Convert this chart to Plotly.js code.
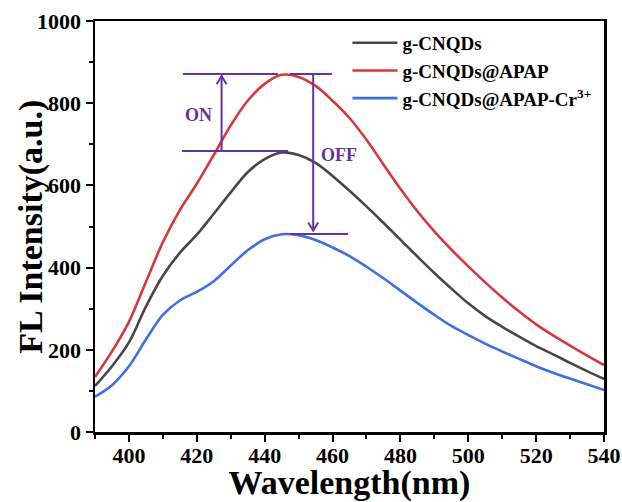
<!DOCTYPE html>
<html>
<head>
<meta charset="utf-8">
<script src="https://cdn.plot.ly/plotly-3.0.1.min.js"></script>
<style>html,body{margin:0;padding:0;background:#fff;}#chart{width:622px;height:502px;}</style>
</head>
<body>
<div id="chart"></div>
<script>
const wavelength = [390,395,400,405,410,415,420,425,430,435,440,445,450,455,460,465,470,475,480,485,490,495,500,505,510,515,520,525,530,535,540];
const gCNQDs = [112,160,218,305,380,436,480,531,583,632,664,680,674,655,623,587,549,509,468,427,387,349,313,282,256,232,209,189,168,148,129];
const gCNQDsAPAP = [134,196,268,365,462,540,604,674,746,806,847,869,864,842,806,764,711,651,592,537,488,444,403,364,327,293,262,235,210,186,163];
const gCNQDsAPAPCr = [86,114,160,225,285,320,341,367,405,442,469,481,479,467,449,428,402,374,344,314,285,258,236,215,196,178,160,144,130,116,102];
const seriesNames = ['g-CNQDs','g-CNQDs@APAP','g-CNQDs@APAP-Cr<sup>3+</sup>'];
const seriesColors = ['#474747','#d8383c','#3f70e2'];
// reference levels for the ON / OFF markers
const levelOnTop = 871, levelOnBottom = 684, levelOff = 482;
const onLineX = [415.9, 443.9], onLine2X = [447.5, 459.8], blackLineX = [415.6, 446.9], offLineX = [447.5, 464.6];
const onArrowX = 427.3, offArrowX = 454.3;
const onArrowTip = 866, offArrowTip = 490;
const xTicks = [400,420,440,460,480,500,520,540];
const yTicks = [0,200,400,600,800,1000];

const FONT = 'Liberation Serif, Times New Roman, serif';
const purple = '#6632a2';
const data = [gCNQDs, gCNQDsAPAP, gCNQDsAPAPCr].map((ys, i) => ({
  x: wavelength, y: ys, type: 'scatter', mode: 'lines', name: seriesNames[i],
  line: {color: seriesColors[i], width: 2.6, shape: 'spline', smoothing: 1.0}
}));

const pline = {color: purple, width: 2};
function hline(x0, x1, y) {
  return {type: 'line', xref: 'x', yref: 'y', x0: x0, x1: x1, y0: y, y1: y, line: pline};
}
function vline(x, y0, y1) {
  return {type: 'line', xref: 'x', yref: 'y', x0: x, x1: x, y0: y0, y1: y1, line: pline};
}
function head(x, y, dir) {
  // open V arrow head, dir = +1 pointing up, -1 pointing down
  const dx = 1.45, dy = 20 * dir;
  return {type: 'path', xref: 'x', yref: 'y', line: pline,
    path: 'M' + (x - dx) + ',' + (y - dy) + ' L' + x + ',' + y + ' L' + (x + dx) + ',' + (y - dy)};
}
const shapes = [
  hline(onLineX[0], onLineX[1], levelOnTop),
  hline(onLine2X[0], onLine2X[1], levelOnTop),
  hline(blackLineX[0], blackLineX[1], levelOnBottom),
  hline(offLineX[0], offLineX[1], levelOff),
  vline(onArrowX, levelOnBottom, onArrowTip),
  head(onArrowX, onArrowTip, 1),
  vline(offArrowX, levelOnTop, offArrowTip),
  head(offArrowX, offArrowTip, -1)
];
const annotations = [
  {x: 420.4, y: 771, xref: 'x', yref: 'y', text: '<b>ON</b>', showarrow: false,
   font: {family: FONT, size: 18, color: purple}},
  {x: 461.8, y: 674, xref: 'x', yref: 'y', text: '<b>OFF</b>', showarrow: false,
   font: {family: FONT, size: 18, color: purple}},
  {x: -0.126, y: 0.499, xref: 'paper', yref: 'paper', text: '<b>FL Intensity(a.u.)</b>', textangle: -90, showarrow: false,
   xanchor: 'center', yanchor: 'middle', font: {family: FONT, size: 34, color: '#000'}}
];

const axisCommon = {
  showline: true, linecolor: '#000', linewidth: 2.5, mirror: true,
  ticks: 'outside', ticklen: 7, tickwidth: 2, tickcolor: '#000',
  showgrid: false, zeroline: false,
  tickfont: {family: FONT, size: 22, color: '#000', weight: 'bold'}
};
const layout = {
  width: 622, height: 502,
  margin: {l: 95, r: 18, t: 21, b: 70},
  paper_bgcolor: '#fff', plot_bgcolor: '#fff',
  font: {family: FONT, color: '#000'},
  showlegend: true,
  legend: {x: 0.496, y: 0.993, xanchor: 'left', yanchor: 'top', bgcolor: 'rgba(0,0,0,0)',
    itemwidth: 45, font: {family: FONT, size: 19, color: '#000', weight: 'bold'}},
  xaxis: Object.assign({}, axisCommon, {
    range: [390, 540], tickvals: xTicks, ticktext: xTicks.map(String), ticklabelstandoff: -5,
    minor: {dtick: 10, tick0: 390, ticks: 'outside', ticklen: 4, tickwidth: 2, tickcolor: '#000'},
    title: {text: '<b>Wavelength(nm)</b>', standoff: 6, font: {family: FONT, size: 34, color: '#000'}}
  }),
  yaxis: Object.assign({}, axisCommon, {
    range: [0, 1000], tickvals: yTicks, ticktext: yTicks.map(String),
    minor: {dtick: 100, tick0: 0, ticks: 'outside', ticklen: 4, tickwidth: 2, tickcolor: '#000'}
  }),
  shapes: shapes,
  annotations: annotations
};
Plotly.newPlot('chart', data, layout, {displayModeBar: false, staticPlot: true});
</script>
</body>
</html>
